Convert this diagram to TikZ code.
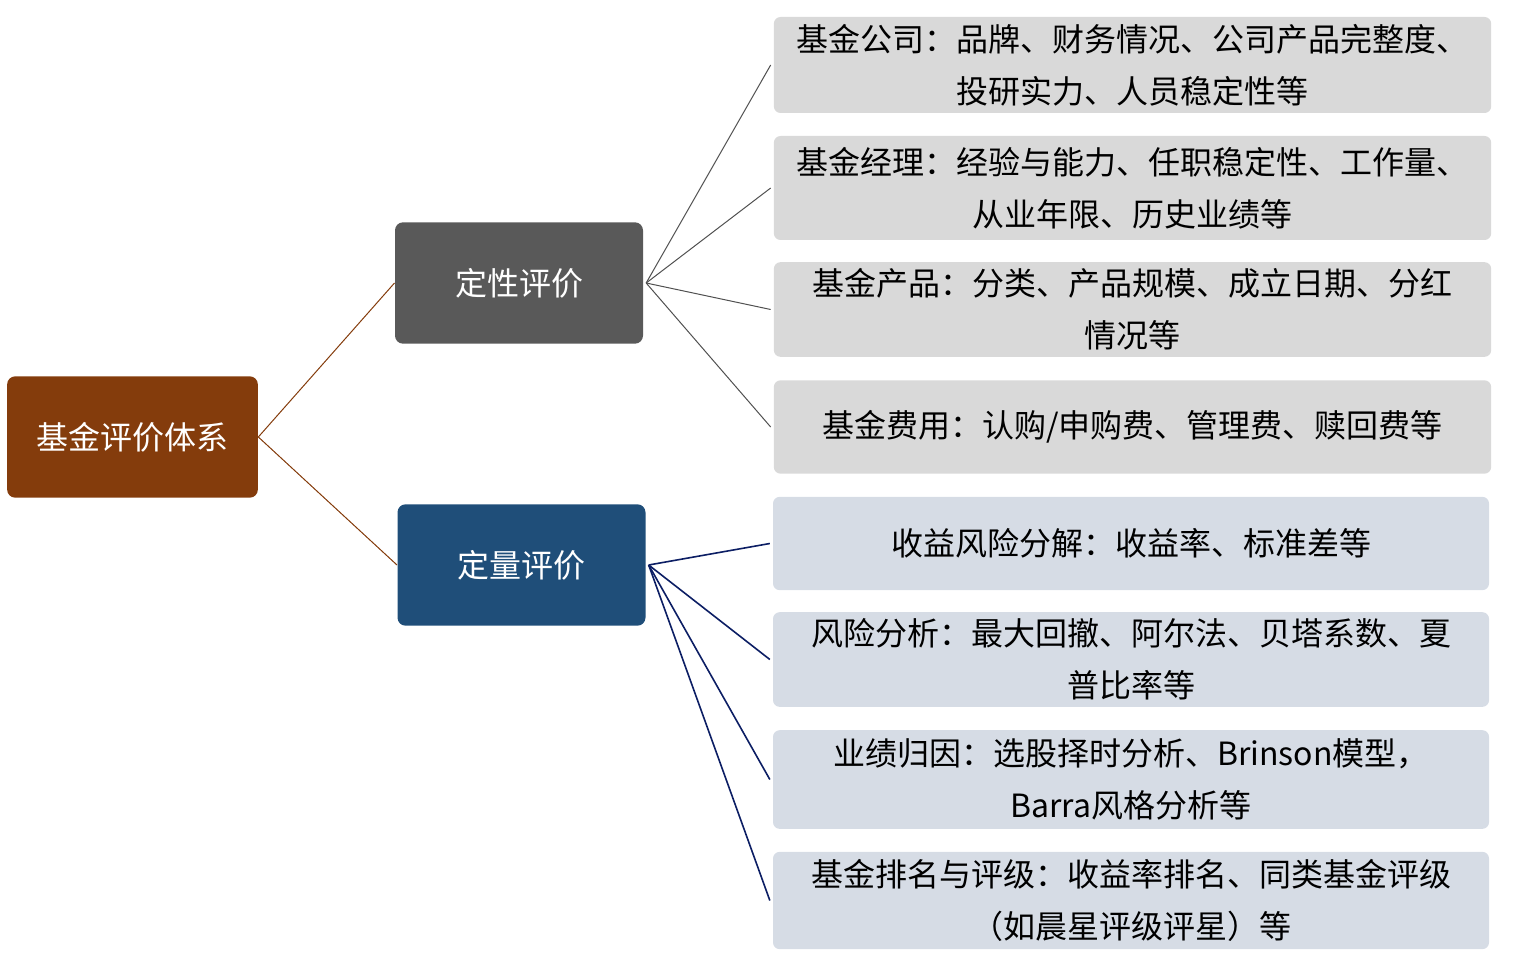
\documentclass[tikz,border=0pt]{standalone}
\usepackage{fontspec}
\newfontfamily\cjk{Noto Sans CJK SC}
\definecolor{rootbrown}{RGB}{132,60,12}
\definecolor{qualgray}{RGB}{89,89,89}
\definecolor{quantblue}{RGB}{31,78,121}
\definecolor{leafgray}{RGB}{217,217,217}
\definecolor{leafblue}{RGB}{214,220,229}
\definecolor{quantline}{RGB}{12,30,100}
\tikzset{every picture/.style={line width=0.75pt}}
\tikzset{
  mainbox/.style={rounded corners=6pt, text=white, minimum width=186pt, minimum height=91pt, font=\cjk\fontsize{24}{28}\selectfont},
  leafbox/.style={rounded corners=5pt, minimum width=538pt, align=center, inner sep=0pt, font=\cjk\fontsize{24}{39}\selectfont}
}
\begin{document}
\begin{tikzpicture}[x=0.75pt,y=0.75pt,yscale=-1,xscale=1]
\useasboundingbox (0,0) rectangle (1526,966);

% main boxes
\node [mainbox, fill=rootbrown, minimum width=188pt] (root) at (132.5,437) {基金评价体系};
\node [mainbox, fill=qualgray] (qual) at (519,283) {定性评价};
\node [mainbox, fill=quantblue] (quant) at (521.5,565) {定量评价};

% qualitative leaves
\node [leafbox, fill=leafgray, minimum height=72pt] (q1) at (1132.5,65) {基金公司：品牌、财务情况、公司产品完整度、\\投研实力、人员稳定性等};
\node [leafbox, fill=leafgray, minimum height=78pt] (q2) at (1132.5,188) {基金经理：经验与能力、任职稳定性、工作量、\\从业年限、历史业绩等};
\node [leafbox, fill=leafgray, minimum height=71pt] (q3) at (1132.5,309.5) {基金产品：分类、产品规模、成立日期、分红\\情况等};
\node [leafbox, fill=leafgray, minimum height=70pt] (q4) at (1132.5,427) {基金费用：认购/申购费、管理费、赎回费等};

% quantitative leaves
\node [leafbox, fill=leafblue, minimum width=537pt, minimum height=70pt] (n1) at (1131,543.5) {收益风险分解：收益率、标准差等};
\node [leafbox, fill=leafblue, minimum width=537pt, minimum height=71pt] (n2) at (1131,659.5) {风险分析：最大回撤、阿尔法、贝塔系数、夏\\普比率等};
\node [leafbox, fill=leafblue, minimum width=537pt, minimum height=74pt] (n3) at (1131,779.5) {业绩归因：选股择时分析、Brinson模型，\\Barra风格分析等};
\node [leafbox, fill=leafblue, minimum width=537pt, minimum height=73pt] (n4) at (1131,900.5) {基金排名与评级：收益率排名、同类基金评级\\（如晨星评级评星）等};

% connectors
\draw [rootbrown] (root.east) -- (qual.west);
\draw [rootbrown] (root.east) -- (quant.west);
\foreach \leaf in {q1,q2,q3,q4}
  \draw [qualgray!90!black] ([xshift=2]qual.east) -- ([xshift=-2]\leaf.west);
\foreach \leaf in {n1,n2,n3,n4}
  \draw [quantline, line width=1.2pt] ([xshift=2]quant.east) -- ([xshift=-2]\leaf.west);

\end{tikzpicture}
\end{document}
